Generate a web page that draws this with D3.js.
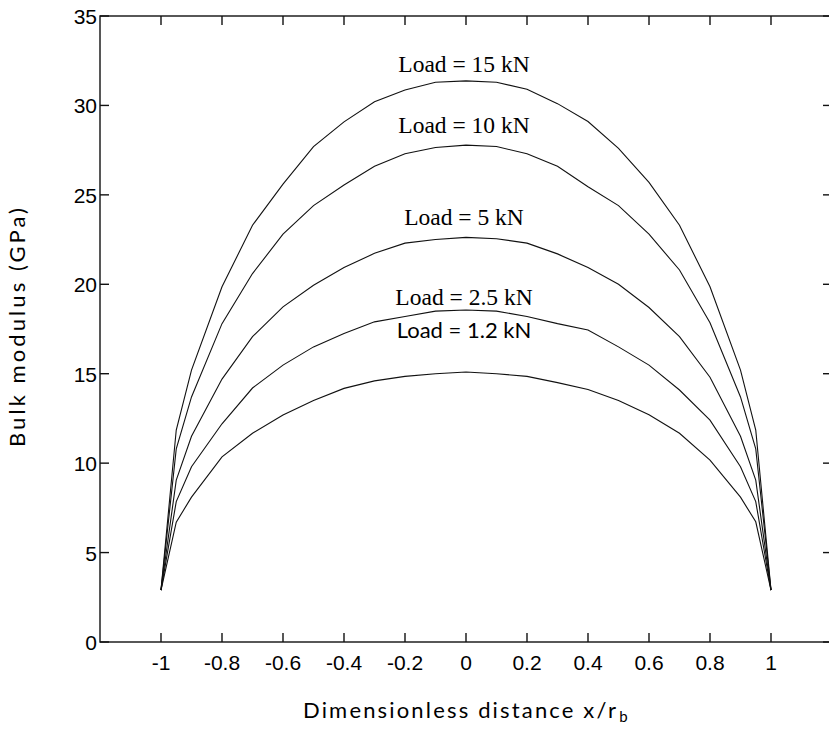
<!DOCTYPE html>
<html>
<head>
  <title></title>
  <script type="text/javascript" src="https://cdn.jsdelivr.net/npm/d3@7"></script>
</head>
<body>

  <style type="text/css">
    body {
      margin: 0;
      background-color: white;
    }

    .curve {
      fill: none;
      stroke: #111;
      stroke-width: 1.1px;
    }

    .frame line, .frame path {
      stroke: #111;
      stroke-width: 1.4px;
    }

    .tick-label {
      font-family: "Liberation Sans", Arial, sans-serif;
      font-size: 21px;
      fill: #000;
    }

    .title {
      font-family: Lato, "Open Sans", sans-serif;
      font-size: 22px;
      fill: #000;
    }

    .load {
      font-family: "Liberation Serif", "Times New Roman", serif;
      font-size: 23.5px;
      fill: #000;
    }

    .load.sans {
      font-family: Lato, "Open Sans", sans-serif;
      font-size: 22px;
    }
  </style>

  <div class="chart"></div>

  <script type="text/javascript">

    var xs = [-1, -0.95, -0.9, -0.8, -0.7, -0.6, -0.5, -0.4, -0.3, -0.2, -0.1, 0,
      0.1, 0.2, 0.3, 0.4, 0.5, 0.6, 0.7, 0.8, 0.9, 0.95, 1];

    var load15 = [2.9, 11.85, 15.2, 19.86, 23.3, 25.6, 27.7, 29.08, 30.2, 30.86, 31.3, 31.37,
      31.3, 30.9, 30.1, 29.1, 27.6, 25.7, 23.3, 19.86, 15.2, 11.85, 2.9];
    var load10 = [2.9, 10.8, 13.7, 17.8, 20.6, 22.8, 24.4, 25.55, 26.6, 27.3, 27.65, 27.78,
      27.7, 27.3, 26.6, 25.45, 24.4, 22.8, 20.8, 17.85, 13.7, 10.8, 2.9];
    var load5 = [2.9, 9.05, 11.5, 14.7, 17.07, 18.74, 19.95, 20.94, 21.73, 22.3, 22.5, 22.62,
      22.55, 22.3, 21.7, 20.94, 20.0, 18.7, 17.07, 14.8, 11.5, 9.05, 2.9];
    var load2_5 = [2.9, 7.85, 9.8, 12.2, 14.2, 15.48, 16.5, 17.25, 17.9, 18.2, 18.5, 18.56,
      18.5, 18.2, 17.8, 17.44, 16.5, 15.48, 14.09, 12.4, 9.8, 7.85, 2.9];
    var load1_2 = [2.9, 6.7, 8.1, 10.35, 11.67, 12.69, 13.5, 14.18, 14.6, 14.85, 15.0, 15.1,
      15.0, 14.85, 14.5, 14.12, 13.5, 12.7, 11.67, 10.17, 8.1, 6.72, 2.9];

    var xTicks = [-1, -0.8, -0.6, -0.4, -0.2, 0, 0.2, 0.4, 0.6, 0.8, 1];
    var yTicks = [0, 5, 10, 15, 20, 25, 30, 35];

    // label text, value the baseline sits at (y), serif or not
    var labels = ['Load = 15 kN', 'Load = 10 kN', 'Load = 5 kN', 'Load = 2.5 kN', 'Load = 1.2 kN'];
    var labelY = [31.85, 28.45, 23.3, 18.84, 17.0];
    var labelSerif = [true, true, true, true, false];

    var series = [load15, load10, load5, load2_5, load1_2];

    var width = 829;
    var height = 733;

    var x = d3.scaleLinear().domain([-1.2, 1.2]).range([100, 832]);
    var y = d3.scaleLinear().domain([0, 35]).range([642, 16]);

    var svg = d3.select('.chart').append('svg')
      .attr('width', width).attr('height', height);

    var tickLen = 9;

    // frame
    var frame = svg.append('g').attr('class', 'frame');
    frame.append('rect')
      .attr('x', x(-1.2)).attr('y', y(35))
      .attr('width', x(1.2) - x(-1.2)).attr('height', y(0) - y(35))
      .style('fill', 'none').style('stroke', '#111').style('stroke-width', 1.4);

    frame.selectAll('.xtick-b').data(xTicks).enter().append('line')
      .attr('x1', function (d) { return x(d); })
      .attr('x2', function (d) { return x(d); })
      .attr('y1', y(0)).attr('y2', y(0) - tickLen);
    frame.selectAll('.xtick-t').data(xTicks).enter().append('line')
      .attr('x1', function (d) { return x(d); })
      .attr('x2', function (d) { return x(d); })
      .attr('y1', y(35)).attr('y2', y(35) + tickLen);
    frame.selectAll('.ytick-l').data(yTicks).enter().append('line')
      .attr('y1', function (d) { return y(d); })
      .attr('y2', function (d) { return y(d); })
      .attr('x1', x(-1.2)).attr('x2', x(-1.2) + tickLen);
    frame.selectAll('.ytick-r').data(yTicks).enter().append('line')
      .attr('y1', function (d) { return y(d); })
      .attr('y2', function (d) { return y(d); })
      .attr('x1', x(1.2)).attr('x2', x(1.2) - tickLen);

    svg.append('g').selectAll('text').data(xTicks).enter().append('text')
      .attr('class', 'tick-label')
      .attr('x', function (d) { return x(d); })
      .attr('y', y(0) + 28)
      .style('text-anchor', 'middle')
      .text(function (d) { return d; });

    svg.append('g').selectAll('text').data(yTicks).enter().append('text')
      .attr('class', 'tick-label')
      .attr('x', x(-1.2) - 3)
      .attr('y', function (d) { return y(d) + 8; })
      .style('text-anchor', 'end')
      .text(function (d) { return d; });

    // curves
    var line = d3.line()
      .x(function (d, i) { return x(xs[i]); })
      .y(function (d) { return y(d); });

    svg.append('g').selectAll('.curve').data(series).enter().append('path')
      .attr('class', 'curve')
      .attr('d', line);

    svg.append('g').selectAll('.load').data(labels).enter().append('text')
      .attr('class', function (d, i) { return labelSerif[i] ? 'load' : 'load sans'; })
      .attr('x', x(0) - 2)
      .attr('y', function (d, i) { return y(labelY[i]); })
      .style('text-anchor', 'middle')
      .text(function (d) { return d; });

    // axis titles, stretched to the width they take in the original
    var xt = svg.append('text')
      .attr('class', 'title')
      .attr('x', 303)
      .attr('y', 718);
    xt.append('tspan')
      .attr('textLength', 313)
      .attr('lengthAdjust', 'spacing')
      .text('Dimensionless distance x/r');
    xt.append('tspan').attr('dy', 4).attr('dx', 1).style('font-size', '15px').text('b');

    svg.append('text')
      .attr('class', 'title')
      .attr('transform', 'translate(25,447) rotate(-90)')
      .attr('textLength', 239)
      .attr('lengthAdjust', 'spacing')
      .text('Bulk modulus (GPa)');

  </script>
</body>
</html>
